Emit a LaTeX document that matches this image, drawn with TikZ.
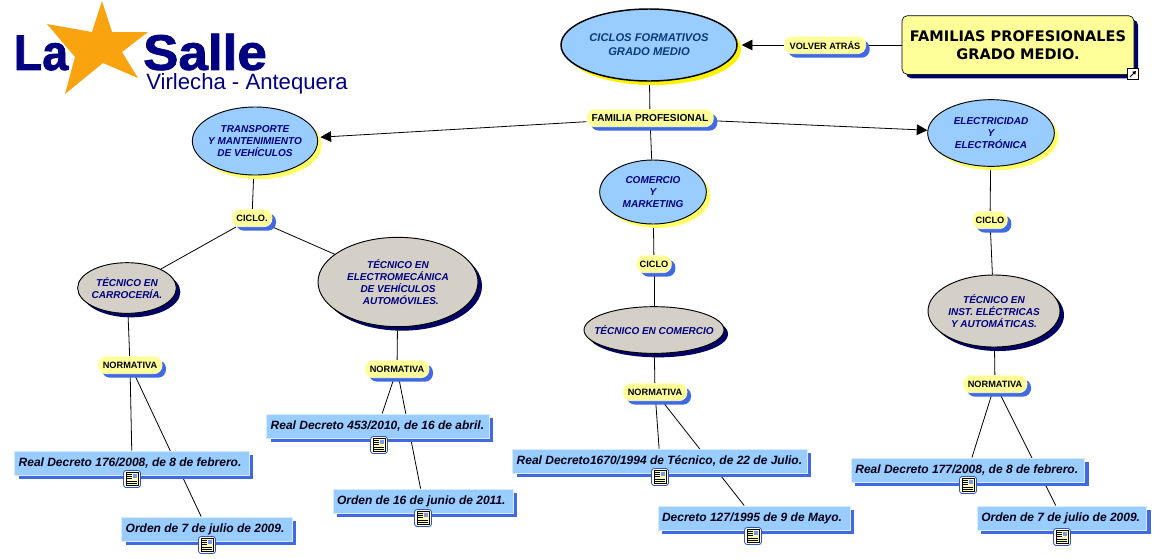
\documentclass[tikz,border=0pt]{standalone}
\usepackage{fontspec}
\setmainfont{Liberation Sans}
\newfontfamily\boxfont{DejaVu Sans}
\newfontfamily\logofont{Liberation Sans}[BoldFeatures={FakeBold=1.5}]
\usepackage{xcolor}
\usetikzlibrary{arrows.meta,shapes.geometric,shadows,backgrounds}
\definecolor{skyfill}{HTML}{99CCFF}
\definecolor{greyfill}{HTML}{D4D0C8}
\definecolor{notefill}{HTML}{FFFF99}
\definecolor{inknavy}{HTML}{000080}
\definecolor{inkteal}{HTML}{0A3A7A}
\definecolor{starfill}{HTML}{F9A30E}
\definecolor{shadeblue}{HTML}{4169E1}
\definecolor{shadenavy}{HTML}{000066}
\definecolor{shadeyellow}{HTML}{FFFF66}
\begin{document}
\begin{tikzpicture}[>={Triangle[length=8pt,width=8pt]},x=0.75pt,y=-0.75pt,
  bubble/.style={ellipse,draw=black,line width=0.7pt,fill=skyfill,inner sep=-8pt,align=center,text=inknavy,
    font=\fontsize{7.5}{8.9}\selectfont\bfseries\itshape,
    drop shadow={shadow xshift=3pt,shadow yshift=-3pt,fill=shadeyellow,opacity=1}},
  career/.style={bubble,fill=greyfill,
    drop shadow={shadow xshift=3pt,shadow yshift=-3pt,fill=shadenavy,opacity=1}},
  tag/.style={rectangle,rounded corners=6pt,fill=notefill,draw=notefill!50!white,line width=0.5pt,inner sep=0pt,
    minimum height=13pt,font=\fontsize{6.9}{8}\selectfont\bfseries,text=black,
    drop shadow={shadow xshift=3pt,shadow yshift=-3pt,fill=shadeblue,opacity=1}},
  decree/.style={rectangle,fill=skyfill,draw=skyfill!40!white,line width=0.7pt,inner xsep=3pt,inner ysep=0pt,minimum height=18pt,
    align=flush left,font=\fontsize{9}{10}\selectfont\bfseries\itshape,text=black!85!inknavy,
    drop shadow={shadow xshift=3pt,shadow yshift=-3pt,fill=shadeblue,opacity=1}},
  link/.style={line width=0.6pt,black},
  docicon/.pic={
    \draw[shadeblue!80!black,line width=0.6pt,rounded corners=2pt,fill=white] (-8.5,-8.5) rectangle (8.5,8.5);
    \draw[black,line width=0.5pt,fill=notefill!70!white] (-6,-6.5) rectangle (6,6.5);
    \fill[shadeblue!70!white] (1,-5.5) rectangle (5,-1);
    \foreach \liney in {-4.5,-2.5,-0.5} \draw[black,line width=0.4pt] (-5,\liney) -- (-0.5,\liney);
    \foreach \liney in {2,4} \draw[black,line width=0.4pt] (-5,\liney) -- (5,\liney);
  }]
\useasboundingbox (0,0) rectangle (1155,558);
\fill[starfill] (102,1) -- (112,32) -- (148,32) -- (122,52) -- (138,78) -- (103,63) -- (65,94) -- (75,57) -- (47,24) -- (92,32) -- cycle;
\node[text=inknavy,font=\logofont\fontsize{37.5}{40}\selectfont\bfseries,inner sep=0pt,xscale=0.93] (logoLa) at (41,53) {La};
\node[text=inknavy,font=\logofont\fontsize{37.5}{40}\selectfont\bfseries,inner sep=0pt,xscale=1.06] (logoSalle) at (205,52) {Salle};
\node[text=inknavy,font=\fontsize{16.6}{18}\selectfont,inner sep=0pt] (logoTown) at (247,84) {Virlecha - Antequera};

\node[bubble,line width=1.1pt,minimum width=132pt,minimum height=54pt,text=inkteal,
  drop shadow={shadow xshift=3pt,shadow yshift=-3pt,fill=yellow,opacity=1},
  font=\fontsize{8.4}{10.5}\selectfont\bfseries\itshape] (ciclos) at (649,45) {CICLOS FORMATIVOS\\GRADO MEDIO};
\node[tag,minimum width=61pt] (volver) at (825,45) {VOLVER ATRÁS};
\node[rectangle,rounded corners=4pt,fill=notefill,draw=black,line width=0.5pt,minimum width=174pt,minimum height=44pt,align=center,
  font=\boxfont\fontsize{10.9}{13.5}\selectfont\bfseries,
  drop shadow={shadow xshift=3pt,shadow yshift=-3pt,fill=shadenavy,opacity=1}] (familias) at (1018,45) {FAMILIAS PROFESIONALES\\GRADO MEDIO.};
\node[rectangle,draw=black,fill=white,line width=0.6pt,minimum size=8.5pt,inner sep=0pt] (linkbox) at (1133,74) {};
\draw[-{Triangle[length=2.5pt,width=3pt]},line width=0.7pt] (1130,77) -- (1136,71);

\node[tag,minimum width=95pt,font=\fontsize{7.6}{8}\selectfont\bfseries] (familia) at (650,118) {FAMILIA PROFESIONAL};
\node[bubble,minimum width=94pt,minimum height=51pt] (transporte) at (255,141) {TRANSPORTE\\Y MANTENIMIENTO\\DE VEHÍCULOS};
\node[bubble,minimum width=80pt,minimum height=48pt] (comercio) at (653,192) {COMERCIO\\Y\\MARKETING};
\node[bubble,minimum width=95pt,minimum height=50pt] (electricidad) at (991,133) {ELECTRICIDAD\\Y\\ELECTRÓNICA};

\node[tag,minimum width=30pt] (cicloA) at (252,218) {CICLO.};
\node[tag,minimum width=26pt] (cicloB) at (654,264) {CICLO};
\node[tag,minimum width=26pt] (cicloC) at (990,220) {CICLO};

\node[career,minimum width=74pt,minimum height=38pt] (carroceria) at (127,288) {TÉCNICO EN\\CARROCERÍA.};
\node[career,minimum width=120pt,minimum height=67pt] (electromec) at (398,282) {TÉCNICO EN\\ELECTROMECÁNICA\\DE VEHÍCULOS\\\ \ AUTOMÓVILES.};
\node[career,inner xsep=-16pt,minimum width=105pt,minimum height=35pt] (tecomercio) at (654,330) {TÉCNICO EN COMERCIO};
\node[career,minimum width=99pt,minimum height=54pt] (instalacion) at (994,311) {TÉCNICO EN\\INST. ELÉCTRICAS\\Y AUTOMÁTICAS.};

\node[tag,minimum width=48pt] (normaA) at (130,365) {NORMATIVA};
\node[tag,minimum width=48pt] (normaB) at (397,369) {NORMATIVA};
\node[tag,minimum width=48pt] (normaC) at (655,392) {NORMATIVA};
\node[tag,minimum width=48pt] (normaD) at (995,384) {NORMATIVA};

\node[decree,text width=170pt] (decretoA) at (132,463) {Real Decreto 176/2008, de 8 de febrero.};
\node[decree,text width=122pt] (ordenA) at (207,529) {Orden de 7 de julio de 2009.};
\node[decree,text width=161pt] (decretoB) at (378,426) {Real Decreto 453/2010, de 16 de abril.};
\node[decree,text width=129pt] (ordenB) at (423,501) {Orden de 16 de junio de 2011.};
\node[decree,text width=215pt] (decretoC) at (660,461) {Real Decreto1670/1994 de Técnico, de 22 de Julio.};
\node[decree,text width=138pt] (ordenC) at (754,518) {Decreto 127/1995 de 9 de Mayo.};
\node[decree,text width=169pt] (decretoD) at (968,470) {Real Decreto 177/2008, de 8 de febrero.};
\node[decree,text width=121pt] (ordenD) at (1062,518) {Orden de 7 de julio de 2009.};

\pic at (132,479) {docicon};
\pic at (207,545) {docicon};
\pic at (379,445) {docicon};
\pic at (423,518) {docicon};
\pic at (660,477) {docicon};
\pic at (753,536) {docicon};
\pic at (968,485) {docicon};
\pic at (1062,537) {docicon};

\begin{scope}[on background layer]
\draw[link] (familias) -- (volver);
\draw[link,->,shorten >=3pt] (volver) -- (ciclos);
\draw[link] (ciclos) -- (familia);
\draw[link,->,shorten >=2pt] (familia) -- (transporte);
\draw[link,->] (familia) -- (electricidad);
\draw[link] (familia) -- (comercio);
\draw[link] (transporte) -- (cicloA);
\draw[link] (cicloA) -- (carroceria);
\draw[link] (cicloA) -- (electromec);
\draw[link] (comercio) -- (cicloB);
\draw[link] (cicloB) -- (tecomercio);
\draw[link] (electricidad) -- (cicloC);
\draw[link] (cicloC) -- (instalacion);
\draw[link] (carroceria) -- (normaA);
\draw[link] (electromec) -- (normaB);
\draw[link] (tecomercio) -- (normaC);
\draw[link] (instalacion) -- (normaD);
\draw[link] (normaA) -- (decretoA);
\draw[link] (normaA) -- (ordenA);
\draw[link] (normaB) -- (decretoB);
\draw[link] (normaB) -- (ordenB);
\draw[link] (normaC) -- (decretoC);
\draw[link] (normaC) -- (ordenC);
\draw[link] (normaD) -- (decretoD);
\draw[link] (normaD) -- (ordenD);
\end{scope}
\end{tikzpicture}
\end{document}
